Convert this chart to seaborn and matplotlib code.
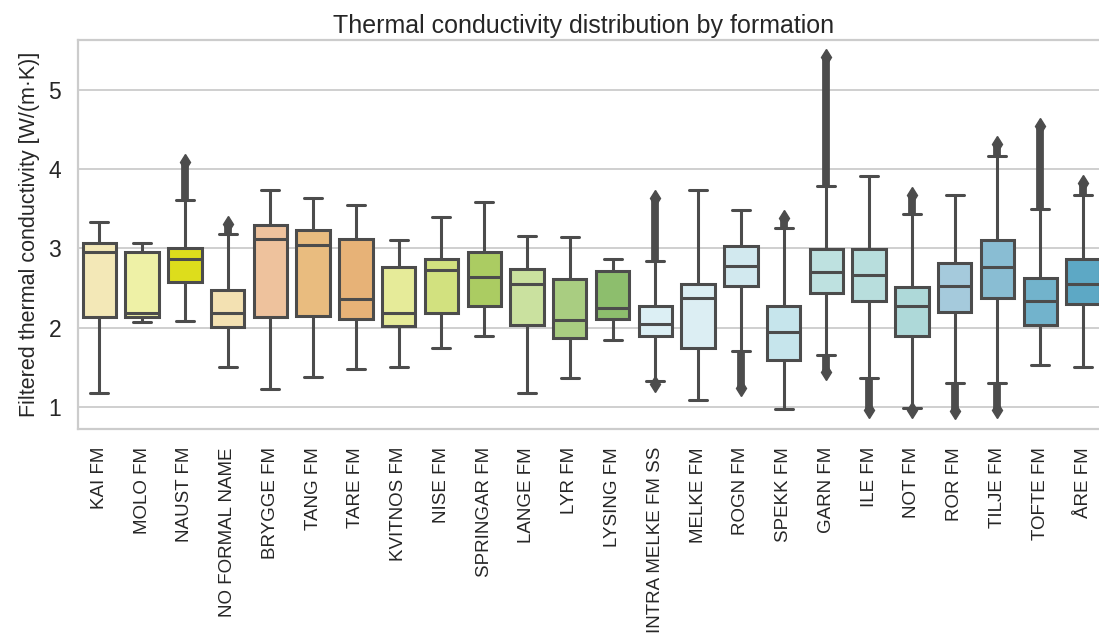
import numpy as np
import matplotlib
matplotlib.use("Agg")
import matplotlib.pyplot as plt
import seaborn as sns

# Formations and their thermal conductivity box statistics [W/(m·K)]
formations = ["KAI FM", "MOLO FM", "NAUST FM", "NO FORMAL NAME", "BRYGGE FM", "TANG FM",
              "TARE FM", "KVITNOS FM", "NISE FM", "SPRINGAR FM", "LANGE FM", "LYR FM",
              "LYSING FM", "INTRA MELKE FM SS", "MELKE FM", "ROGN FM", "SPEKK FM", "GARN FM",
              "ILE FM", "NOT FM", "ROR FM", "TILJE FM", "TOFTE FM", "ÅRE FM"]
whisker_low = [1.18, 2.07, 2.08, 1.50, 1.22, 1.38, 1.48, 1.50, 1.74, 1.90, 1.18, 1.37,
               1.84, 1.33, 1.09, 1.71, 0.97, 1.65, 1.37, 0.98, 1.30, 1.30, 1.53, 1.50]
q1 = [2.14, 2.14, 2.58, 2.01, 2.13, 2.15, 2.11, 2.02, 2.18, 2.27, 2.03, 1.87,
      2.11, 1.90, 1.74, 2.52, 1.59, 2.44, 2.33, 1.90, 2.20, 2.38, 2.03, 2.30]
median = [2.96, 2.19, 2.87, 2.19, 3.12, 3.04, 2.36, 2.18, 2.73, 2.64, 2.55, 2.10,
          2.25, 2.05, 2.38, 2.78, 1.95, 2.70, 2.67, 2.27, 2.52, 2.76, 2.33, 2.55]
q3 = [3.07, 2.96, 3.00, 2.48, 3.30, 3.23, 3.12, 2.76, 2.87, 2.96, 2.74, 2.61,
      2.72, 2.27, 2.55, 3.03, 2.27, 2.99, 2.99, 2.51, 2.82, 3.10, 2.63, 2.86]
whisker_high = [3.33, 3.07, 3.61, 3.18, 3.74, 3.64, 3.55, 3.11, 3.40, 3.58, 3.15, 3.14,
                2.87, 2.84, 3.74, 3.49, 3.26, 3.79, 3.91, 3.44, 3.67, 4.17, 3.50, 3.67]
# Most extreme outliers below / above the whiskers (nan = none)
nan = float("nan")
outlier_min = [nan, nan, nan, nan, nan, nan, nan, nan, nan, nan, nan, nan,
               nan, 1.29, nan, 1.24, nan, 1.44, 0.96, 0.96, 0.95, 0.96, nan, nan]
outlier_max = [nan, nan, 4.09, 3.31, nan, nan, nan, nan, nan, nan, nan, nan,
               nan, 3.64, nan, nan, 3.38, 5.42, nan, 3.67, nan, 4.32, 4.54, 3.83]

box_colors = ["#F3E8B7", "#EEF1A6", "#DDDD1C", "#F3E1B2", "#EEC29D", "#E9BC7F",
              "#E7B277", "#E6EB99", "#D2E17F", "#ABCC62", "#CAE19F", "#A9CD81",
              "#8DBE6D", "#DCEFF4", "#DCEEF3", "#D2E9EF", "#C6E5EC", "#BEE1E0",
              "#B8DEDD", "#AED9D9", "#A5CADC", "#89BDD3", "#72B3CC", "#5DA8C5"]

sns.set_theme(style="whitegrid")
plt.rcParams["font.family"] = ["Liberation Sans", "DejaVu Sans"]

line_gray = "#4c4c4c"
lw = 2.2
fig = plt.figure(figsize=(10.99, 6.39), dpi=100)
ax = fig.add_axes([0.0709, 0.3286, 0.934, 0.6088])

stats = []
for i, name in enumerate(formations):
    fl = [v for v in (outlier_min[i], outlier_max[i]) if not np.isnan(v)]
    stats.append(dict(label=name, whislo=whisker_low[i], q1=q1[i], med=median[i],
                      q3=q3[i], whishi=whisker_high[i], fliers=fl))

positions = np.arange(len(formations))
art = ax.bxp(stats, positions=positions, widths=0.78, patch_artist=True,
             boxprops=dict(edgecolor=line_gray, linewidth=lw),
             medianprops=dict(color=line_gray, linewidth=lw),
             whiskerprops=dict(color=line_gray, linewidth=lw),
             capprops=dict(color=line_gray, linewidth=lw),
             capwidths=0.42,
             flierprops=dict(marker="d", markersize=8, markerfacecolor=line_gray,
                             markeredgecolor=line_gray, linestyle="none"))
for patch, c in zip(art["boxes"], box_colors):
    patch.set_facecolor(c)

# Dense runs of outliers drawn as solid columns between whisker and extreme
for i in positions:
    if not np.isnan(outlier_max[i]):
        ax.vlines(i, whisker_high[i], outlier_max[i], color=line_gray, linewidth=5.6, zorder=2.5)
    if not np.isnan(outlier_min[i]):
        ax.vlines(i, outlier_min[i], whisker_low[i], color=line_gray, linewidth=5.6, zorder=2.5)

ax.set_xlim(-0.5, len(formations) - 0.5)
ax.set_ylim(0.72, 5.63)
ax.set_yticks([1, 2, 3, 4, 5])
ax.set_xticks(positions)
ax.set_xticklabels(formations, rotation=90, fontsize=13.5)
ax.tick_params(axis="y", labelsize=16.5, pad=6, labelcolor="#262626")
ax.tick_params(axis="x", pad=7, labelcolor="#262626")
ax.xaxis.grid(False)
ax.yaxis.grid(True, color="#cccccc", linewidth=1.3)
for side in ["left", "top", "bottom", "right"]:
    ax.spines[side].set_color("#cccccc")
    ax.spines[side].set_linewidth(1.6)
ax.set_axisbelow(True)

ax.set_ylabel("Filtered thermal conductivity [W/(m·K)]", fontsize=15.5, labelpad=6,
              color="#262626")
ax.set_title("Thermal conductivity distribution by formation", fontsize=18, pad=5,
             color="#262626", x=0.493)

fig.savefig("out.png", dpi=100)
